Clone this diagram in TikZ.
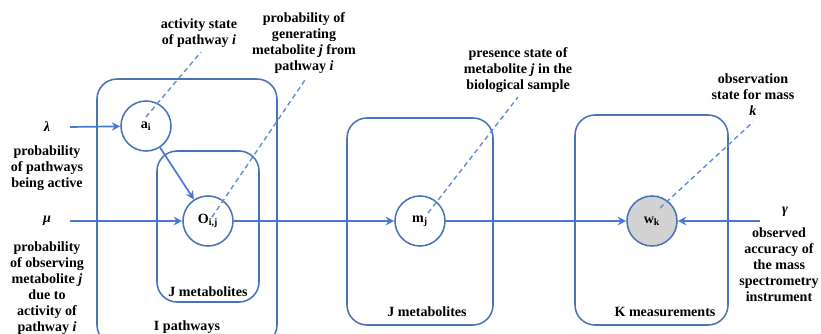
\documentclass[tikz,border=0pt]{standalone}
\usepackage{fontspec}
\setmainfont{Liberation Serif}
\usetikzlibrary{arrows.meta}

\definecolor{plateblue}{HTML}{4A72B8}
\definecolor{linkblue}{HTML}{4878CF}
\definecolor{obsgray}{HTML}{D3D3D3}

\tikzset{
  var/.style={circle, draw=plateblue, line width=1.1pt, fill=white,
    minimum size=1.25cm, inner sep=0pt, font=\bfseries\fontsize{10}{12}\selectfont},
  plate/.style={draw=plateblue, line width=1.1pt, rounded corners=0.5cm},
  link/.style={draw=linkblue, line width=1.2pt, -{Stealth[length=6pt,width=6pt,inset=2pt]}},
  callout/.style={draw=linkblue!85, line width=1pt, dash pattern=on 3.5pt off 2.5pt},
  note/.style={align=center, inner sep=0pt, font=\bfseries\fontsize{10}{11.4}\selectfont},
}

\begin{document}
\begin{tikzpicture}[x=0.025cm, y=-0.025cm]
\clip (0,0) rectangle (821,334);

% plates
\draw[plate] (97,79) rectangle (277,345);
\draw[plate] (157,151) rectangle (259,302);
\draw[plate] (347,118) rectangle (493,325);
\draw[plate] (575,115) rectangle (728,325);
\node[note] (platei) at (187,327) {I pathways};
\node[note] (platej) at (208,292) {J metabolites};
\node[note] (platem) at (427,312) {J metabolites};
\node[note] (platek) at (665,312) {K measurements};

% variables
\node[var] (a) at (146,126) {a\textsubscript{i}};
\node[var] (o) at (208,221) {O\textsubscript{i,j}};
\node[var] (m) at (420,221) {m\textsubscript{j}};
\node[var, fill=obsgray] (w) at (652,221) {w\textsubscript{k}};

% hyperparameters
\node[note] (lam) at (47,127) {\textit{λ}};
\node[note] (lamtext) at (47,168) {probability\\of pathways\\being active};
\node[note] (mu) at (47,221) {\textit{μ}};
\node[note] (mutext) at (47,288.5) {probability\\of observing\\metabolite \textit{j}\\due to\\activity of\\pathway \textit{i}};
\node[note] (gam) at (785,212) {\textit{γ}};
\node[note] (gamtext) at (779,265) {observed\\accuracy of\\the mass\\spectrometry\\instrument};
\coordinate (lamtail) at (70,127);
\coordinate (mutail) at (70,221);
\coordinate (gamtail) at (760,221);

% descriptions
\node[note] (anote) at (199,33) {activity state\\of pathway \textit{i}};
\node[note] (onote) at (304,43.5) {probability of\\generating\\metabolite \textit{j} from\\pathway \textit{i}};
\node[note] (mnote) at (518,70) {presence state of\\metabolite \textit{j} in the\\biological sample};
\node[note] (wnote) at (753,95) {observation\\state for mass\\\textit{k}};
\coordinate (atip) at (201,52);
\coordinate (otip) at (305,80);
\coordinate (mtip) at (518,97);
\coordinate (wtip) at (753,122);

% arrows
\draw[link] (lamtail) -- (a);
\draw[link] (mutail) -- (o);
\draw[link] (a) -- (o);
\draw[link] (o) -- (m);
\draw[link] (m) -- (w);
\draw[link] (gamtail) -- (w);

% callouts
\draw[callout] (a.center) ++(0,-9) -- (atip);
\draw[callout] (o.center) ++(4,-4) -- (otip);
\draw[callout] (m.center) ++(8,-8) -- (mtip);
\draw[callout] (w.center) ++(8,-13) -- (wtip);
\end{tikzpicture}
\end{document}
